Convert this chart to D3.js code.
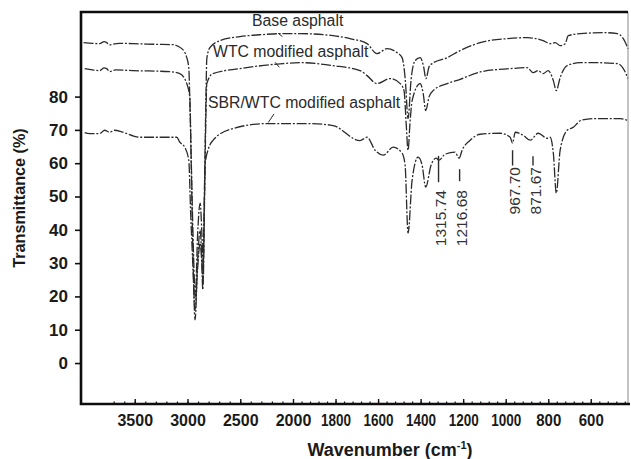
<!DOCTYPE html>
<html>
<head>
<meta charset="utf-8">
<script src="https://cdn.jsdelivr.net/npm/d3@7/dist/d3.min.js"></script>
<style>
  html, body { margin: 0; padding: 0; background: #fff; }
  svg { display: block; font-family: "Liberation Sans", Arial, sans-serif; }
</style>
</head>
<body>
<svg class="js-render-chart" width="631" height="459"></svg>
<script>
"use strict";

//data (wavenumber cm-1, transmittance %)

const baseAsphalt = [
  [3985, 96.2], [3900, 96.0], [3833, 95.9], [3790, 96.5], [3766, 96.2], [3740, 95.5], [3709, 95.7],
  [3650, 96.0], [3519, 95.9], [3300, 95.7], [3140, 95.6], [3054, 94.4], [3007, 91.7], [2988, 88.7],
  [2975, 75], [2960, 55], [2945, 35], [2925, 20], [2905, 38], [2880, 48], [2865, 40], [2852, 30],
  [2838, 55], [2825, 80], [2817, 91.4], [2788, 94.7], [2693, 96.8], [2503, 98.0], [2300, 98.6],
  [2095, 98.9], [1967, 98.9], [1812, 98.3], [1732, 97.4], [1652, 95.9], [1605, 92.9], [1558, 94.4],
  [1511, 93.2], [1487, 91.7], [1472, 85], [1459, 73.4], [1445, 85], [1426, 90.8], [1402, 91.7],
  [1386, 89], [1375, 85.4], [1360, 89], [1346, 89.9], [1275, 91.7], [1214, 93.8], [1120, 96.2],
  [993, 97.4], [899, 97.7], [824, 96.8], [791, 95.9], [767, 96.2], [744, 95.3], [720, 95.9],
  [706, 98.3], [649, 98.9], [541, 99.2], [475, 98.9], [447, 97.4], [425, 94.4]
];

const wtcAsphalt = [
  [3975, 88.4], [3900, 88.0], [3833, 87.8], [3790, 88.6], [3766, 88.4], [3738, 87.5], [3680, 88.0],
  [3519, 87.8], [3168, 87.5], [3073, 86.9], [3007, 83.9], [2978, 79.7], [2965, 60], [2950, 35],
  [2928, 13], [2905, 30], [2880, 40], [2865, 32], [2852, 24], [2838, 50], [2825, 75], [2817, 83.9],
  [2760, 86.9], [2503, 88.4], [2095, 89.9], [1967, 90.2], [1812, 89.3], [1685, 87.8], [1652, 86.3],
  [1605, 83.9], [1544, 85.4], [1496, 83.9], [1478, 81.8], [1468, 72], [1459, 63.9], [1450, 72],
  [1440, 78.8], [1402, 83.9], [1388, 81], [1376, 75.8], [1360, 80], [1341, 81.8], [1275, 83.9],
  [1214, 85.2], [1120, 87.4], [979, 88.4], [899, 88.7], [871, 87.2], [847, 87.8], [824, 86.9],
  [800, 87.8], [776, 84.8], [762, 81.8], [744, 85.7], [711, 89.3], [649, 90.2], [588, 90.2],
  [475, 89.9], [447, 88.4], [425, 85.4]
];

const sbrWtcAsphalt = [
  [3975, 69.2], [3928, 68.9], [3833, 68.9], [3785, 69.9], [3738, 69.3], [3690, 69.9], [3614, 69.3],
  [3453, 67.8], [3102, 67.8], [3073, 66.3], [3026, 64.8], [2988, 60.9], [2970, 45], [2950, 30],
  [2928, 16], [2905, 28], [2880, 36], [2865, 30], [2855, 22], [2842, 45], [2832, 60], [2800, 64.5],
  [2760, 66.8], [2570, 70.4], [2247, 71.9], [1920, 71.9], [1812, 71.3], [1685, 66.8], [1652, 67.8],
  [1614, 63.9], [1576, 62.4], [1529, 64.8], [1487, 63.0], [1473, 59.4], [1459, 39.0], [1440, 54.9],
  [1412, 61.8], [1393, 59.4], [1376, 52.8], [1351, 59.4], [1327, 61.5], [1313, 60.9], [1285, 62.7],
  [1238, 63.3], [1219, 61.5], [1205, 63.9], [1167, 66.9], [1120, 68.7], [1026, 69.0], [979, 67.8],
  [968, 66.0], [955, 69.3], [918, 68.4], [885, 66.9], [847, 69.0], [805, 67.5], [791, 67.8],
  [776, 63.0], [762, 51.0], [744, 63.9], [711, 69.9], [682, 70.8], [664, 71.9], [649, 72.8],
  [588, 73.4], [461, 73.4], [425, 72.8]
];

//series labels: name, label anchor (wn, T), leader line (wn, T) -> (wn, T)

const seriesNames = ["Base asphalt", "WTC modified asphalt", "SBR/WTC modified asphalt"];
const seriesLabelAt = [[2389, 101.2], [2758, 92.0], [2806, 76.6]];
const seriesLeaders = [
  [[2140, 99.0], [2100, 98.0]],
  [[2170, 90.3], [2130, 88.8]],
  [[2180, 74.8], [2235, 72.2]]
];

//peak annotations: label, wavenumber, marker top / bottom (T), text start (T)

const peakLabels = ["1315.74", "1216.68", "967.70", "871.67"];
const peakWavenumbers = [1315.74, 1216.68, 967.70, 871.67];
const peakMarkTop = [62.2, 58.2, 63.9, 62.1];
const peakMarkBottom = [54.3, 54.6, 59.3, 59.3];
const peakTextStart = [35.1, 35.1, 44.6, 44.6];

//ticks

const xMajorTicks = [3500, 3000, 2500, 2000, 1800, 1600, 1400, 1200, 1000, 800, 600];
const xMinorTicks = d3.range(3700, 2000, -100).concat(d3.range(1960, 430, -40));
const yTicks = [0, 10, 20, 30, 40, 50, 60, 70, 80];

//chart

const chart = {

  params() {
    return {
      left: 81,
      right: 628,
      top: 12,
      bottom: 404,
      ink: "#2b2b2b",
      svg: d3.select(".js-render-chart")
    };
  },

  scales(p) {

    //ftir style axis: 4000-2000 compressed, 2000-425 expanded

    p.x = d3.scaleLinear()
      .domain([4000, 2000, 425])
      .range([p.left + 1, 293, p.right]);

    p.y = d3.scaleLinear()
      .domain([-12.3, 105.4])
      .range([p.bottom, p.top]);

  },

  axes(p) {

    const { svg, x, y } = p;

    //minor ticks

    svg.append("g")
      .attr("transform", `translate(0,${p.bottom})`)
      .call(d3.axisBottom(x).tickValues(xMinorTicks).tickSize(-2.5).tickFormat(""))
      .call((g) => g.select(".domain").remove())
      .call((g) => g.selectAll("line").attr("stroke", "#111").attr("stroke-width", 1.2));

    //major ticks

    const xAxis = svg.append("g")
      .attr("transform", `translate(0,${p.bottom})`)
      .call(d3.axisBottom(x).tickValues(xMajorTicks).tickSize(-5).tickPadding(10.5).tickFormat(d3.format("d")));

    xAxis.select(".domain").remove();
    xAxis.selectAll("line").attr("stroke", "#111").attr("stroke-width", 1.4);
    xAxis.selectAll("text")
      .attr("fill", "#1a1a1a")
      .attr("font-size", 16)
      .attr("font-weight", "bold")
      .attr("font-family", "Liberation Sans, Arial, sans-serif")
      .each(function (d) {
        if (d < 2000) {
          d3.select(this)
            .attr("textLength", d >= 1000 ? 30 : 25)
            .attr("lengthAdjust", "spacingAndGlyphs");
        }
      });

    const yAxis = svg.append("g")
      .attr("transform", `translate(${p.left},0)`)
      .call(d3.axisLeft(y).tickValues(yTicks).tickSize(6).tickPadding(7));

    yAxis.select(".domain").remove();
    yAxis.selectAll("line").attr("stroke", "#111").attr("stroke-width", 1.6);
    yAxis.selectAll("text")
      .attr("fill", "#1a1a1a")
      .attr("font-size", 17)
      .attr("font-weight", "bold")
      .attr("font-family", "Liberation Sans, Arial, sans-serif");

  },

  frame(p) {

    const { svg } = p;

    svg.append("line")
      .attr("x1", p.right).attr("x2", p.right)
      .attr("y1", p.top).attr("y2", p.bottom)
      .attr("stroke", "#8a8a8a")
      .attr("stroke-width", 1);

    svg.append("path")
      .attr("d", `M${p.right},${p.top}H${p.left}V${p.bottom}H${p.right + 2}`)
      .attr("fill", "none")
      .attr("stroke", "#0d0d0d")
      .attr("stroke-width", 2.6);

  },

  spectra(p) {

    const { svg, x, y } = p;

    const line = d3.line()
      .x((d) => x(d[0]))
      .y((d) => y(d[1]))
      .curve(d3.curveMonotoneX);

    svg.append("g")
      .selectAll("path")
      .data([baseAsphalt, wtcAsphalt, sbrWtcAsphalt])
      .enter()
      .append("path")
      .attr("d", line)
      .attr("fill", "none")
      .attr("stroke", p.ink)
      .attr("stroke-width", 1.3)
      .attr("stroke-dasharray", "10,1.8,2,1.8")
      .attr("stroke-linejoin", "round");

  },

  labels(p) {

    const { svg, x, y } = p;

    svg.append("g")
      .selectAll("text")
      .data(seriesNames)
      .enter()
      .append("text")
      .attr("x", (d, i) => x(seriesLabelAt[i][0]))
      .attr("y", (d, i) => y(seriesLabelAt[i][1]))
      .attr("font-size", 15.8)
      .attr("fill", "#2a2a2a")
      .text((d) => d);

    svg.append("g")
      .selectAll("line")
      .data(seriesLeaders)
      .enter()
      .append("line")
      .attr("x1", (d) => x(d[0][0]))
      .attr("y1", (d) => y(d[0][1]))
      .attr("x2", (d) => x(d[1][0]))
      .attr("y2", (d) => y(d[1][1]))
      .attr("stroke", p.ink)
      .attr("stroke-width", 1);

    //peak markers

    const peaks = svg.append("g");

    peaks.selectAll("line")
      .data(peakWavenumbers)
      .enter()
      .append("line")
      .attr("x1", (d) => x(d))
      .attr("x2", (d) => x(d))
      .attr("y1", (d, i) => y(peakMarkTop[i]))
      .attr("y2", (d, i) => y(peakMarkBottom[i]))
      .attr("stroke", p.ink)
      .attr("stroke-width", 1.4);

    peaks.selectAll("text")
      .data(peakLabels)
      .enter()
      .append("text")
      .attr("transform", (d, i) => `translate(${x(peakWavenumbers[i]) + 2},${y(peakTextStart[i])}) rotate(-90)`)
      .attr("dy", "0.36em")
      .attr("font-size", 15.5)
      .attr("fill", "#333")
      .text((d) => d);

  },

  titles(p) {

    const { svg } = p;

    const xt = svg.append("text")
      .attr("x", 390)
      .attr("y", 456)
      .attr("text-anchor", "middle")
      .attr("font-size", 18)
      .attr("font-weight", "bold")
      .attr("fill", "#1a1a1a");

    xt.append("tspan").text("Wavenumber (cm");
    xt.append("tspan").attr("font-size", 11).attr("dy", -7).text("-1");
    xt.append("tspan").attr("dy", 7).text(")");

    svg.append("text")
      .attr("transform", "translate(25,198) rotate(-90)")
      .attr("text-anchor", "middle")
      .attr("font-size", 16.2)
      .attr("font-weight", "bold")
      .attr("fill", "#1a1a1a")
      .text("Transmittance (%)");

  },

  render() {

    const p = this.params();

    this.scales(p);
    this.spectra(p);
    this.axes(p);
    this.frame(p);
    this.labels(p);
    this.titles(p);

  }

};

chart.render();
</script>
</body>
</html>
